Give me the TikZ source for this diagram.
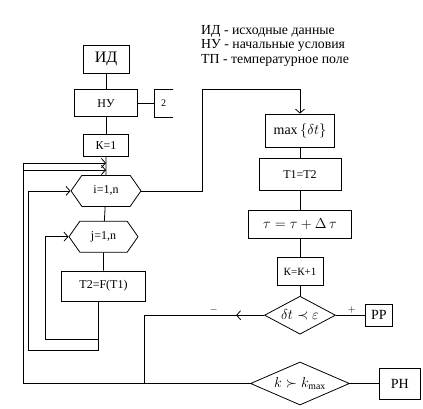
\documentclass[tikz,border=0pt]{standalone}
\usepackage{fontspec}
\setmainfont{Liberation Serif}
\usepackage{tikz}
\usetikzlibrary{shapes,arrows.meta,positioning}
\tikzstyle{blk} = [rectangle, draw=black, line width=0.8pt, text=black, text centered, font=\fontsize{12}{13}\selectfont, inner sep=1pt]
\tikzstyle{loophex} = [signal, signal to=east and west, signal pointer angle=110, draw=black, line width=0.8pt, minimum width=70pt, minimum height=31pt, font=\fontsize{12}{13}\selectfont, inner sep=1pt]
\tikzstyle{cond} = [diamond, draw=black, line width=0.8pt, inner sep=0pt, font=\fontsize{14}{15}\selectfont]
\tikzstyle{textonly} = [draw=none, fill=none, text centered, inner sep=1pt]
\tikzstyle{tedge}  = [draw, line width=0.8pt, -{Straight Barb[length=4pt,width=9pt]}]
\tikzstyle{pedge}  = [draw, line width=0.8pt]

\begin{document}
\begin{tikzpicture}[x=1pt, y=1pt, auto]
\useasboundingbox (0,0) rectangle (423,408);

% legend =================================
\node[textonly, anchor=north west, align=left, font=\fontsize{13.8}{14.5}\selectfont] (legend) at (200,384)
  {ИД - исходные данные\\НУ - начальные условия\\ТП - температурное поле};

% left column ============================
\node[blk, minimum width=46pt, minimum height=28pt, font=\fontsize{16}{17}\selectfont] (id) at (106,349) {ИД};
\node[blk, below=16pt of id, minimum width=63pt, minimum height=27pt] (nu) {НУ};
\node[textonly, right=16pt of nu, minimum width=19pt, minimum height=27pt] (note) {2};
\node[blk, below=17pt of nu, minimum width=45pt, minimum height=22pt] (k1) {К=1};
\node[loophex, below=18pt of k1] (iloop) {i=1,n};
\node[loophex, below=14pt of iloop, xshift=-2.5pt, minimum width=69pt] (jloop) {j=1,n};
\node[blk, below=18pt of jloop, minimum width=84pt, minimum height=30pt] (t2) {Т2=F(Т1)};

% right column ===========================
\node[blk, minimum width=69pt, minimum height=33pt, font=\fontsize{14}{15}\selectfont] (mx) at (300,277.5) {$\max\left\{\delta t\right\}$};
\node[blk, below=11pt of mx, minimum width=82pt, minimum height=32pt] (t1) {Т1=Т2};
\node[blk, below=19pt of t1, minimum width=103pt, minimum height=28pt, font=\fontsize{14}{15}\selectfont] (tau) {$\tau = \tau + \Delta\,\tau$};
\node[blk, below=18pt of tau, minimum width=46pt, minimum height=28pt, font=\fontsize{11}{12}\selectfont] (kk) {К=К+1};
\node[cond, below=10pt of kk, aspect=1.87, minimum width=71pt, minimum height=38pt] (dt) {$\delta t \prec \varepsilon$};
\node[cond, below=27pt of dt, aspect=2.3, minimum width=99pt, minimum height=43pt] (kmax) {$k \succ k_{\max}$};
\node[blk, right=29pt of dt, minimum width=27pt, minimum height=22pt, font=\fontsize{14}{15}\selectfont] (pp) {РР};
\node[blk, right=29pt of kmax, minimum width=41pt, minimum height=31pt, font=\fontsize{14}{15}\selectfont] (pn) {РН};

% corners
\coordinate (ret1) at ([yshift=-6pt]k1.south);
\coordinate (ret2) at ([yshift=-13pt]k1.south);
\coordinate (outer) at (kmax.west -| 23,0);
\coordinate (join) at (kmax.west -| 144,0);
\coordinate (bend) at (202,319);
\coordinate (t2out) at ([xshift=-5pt]t2.south);
\coordinate (iback) at (28,58);
\coordinate (jback) at (45,69);

% edges
\path[pedge] (id) -- (nu);
\path[pedge] (nu) -- (note);
\draw[line width=0.8pt] (note.north east) -- (note.north west) -- (note.south west) -- (note.south east);
\path[pedge] (nu) -- (k1);
\path[pedge] (k1) -- (iloop);
\path[pedge] (iloop) -- (jloop);
\path[pedge] (jloop) -- (t2);
\path[tedge] (iloop.east) -| (bend) -| (mx.north);
\path[pedge] (mx) -- (t1);
\path[pedge] (t1) -- (tau);
\path[pedge] (tau) -- (kk);
\path[pedge] (kk) -- (dt);
\path[pedge] (dt.east) -- node[textonly, above, pos=0.55] {$+$} (pp.west);
\path[pedge] (kmax.east) -- (pn.west);
\path[tedge] (dt.west) -- ([xshift=-28pt]dt.west);
\path[pedge] (dt.west) -| node[textonly, above, pos=0.21] {$-$} (join);
\path[pedge] (kmax.west) -- (outer);
\path[tedge] (outer) |- (ret1);
\path[tedge] (outer |- ret2) -- (ret2);
\path[tedge] (t2out) |- (iback) |- (iloop.west);
\path[tedge] (t2out |- jback) -- (jback) |- (jloop.west);

\end{tikzpicture}
\end{document}
